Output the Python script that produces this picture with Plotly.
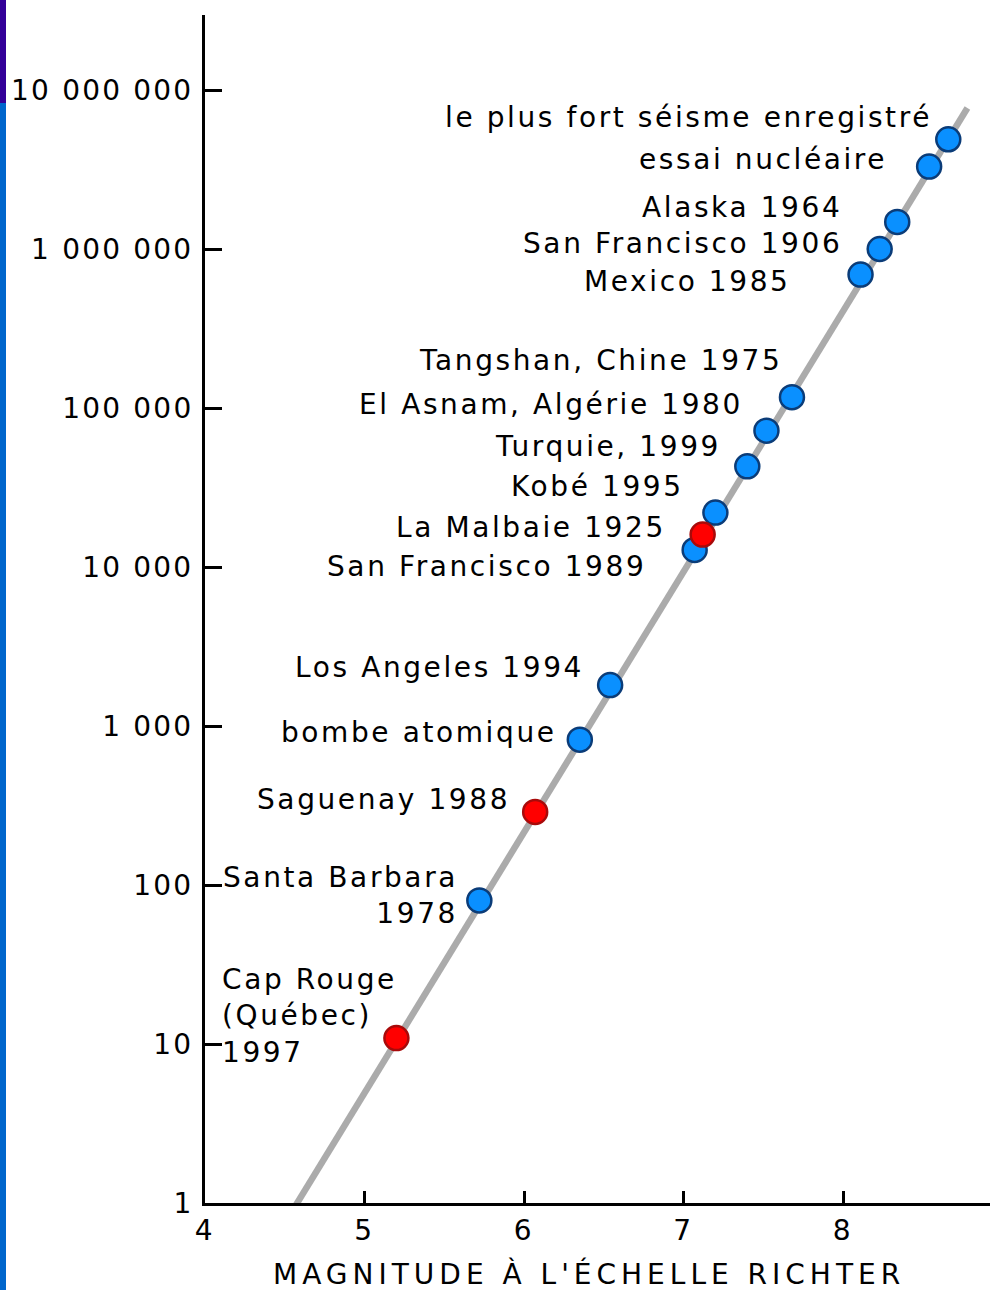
import math
import plotly.graph_objects as go

# ---------------- data ----------------
events = [
    "le plus fort séisme enregistré",
    "essai nucléaire",
    "Alaska 1964",
    "San Francisco 1906",
    "Mexico 1985",
    "Tangshan, Chine 1975",
    "El Asnam, Algérie 1980",
    "Turquie, 1999",
    "Kobé 1995",
    "La Malbaie 1925",
    "San Francisco 1989",
    "Los Angeles 1994",
    "bombe atomique",
    "Saguenay 1988",
    "Santa Barbara\n1978",
    "Cap Rouge\n(Québec)\n1997",
]
magnitude = [8.66, 8.54, 8.34, 8.23, 8.11, 7.68, 7.52, 7.40, 7.20, 7.12, 7.07,
             6.54, 6.35, 6.07, 5.72, 5.20]
energy = [4.9e6, 3.3e6, 1.48e6, 1.0e6, 6.9e5, 1.17e5, 7.2e4, 4.3e4, 2.2e4,
          1.6e4, 1.28e4, 1810, 820, 288, 80, 10.9]
quebec = [False, False, False, False, False, False, False, False, False,
          True, False, False, False, True, False, True]

trend_x = [4.55, 8.78]
trend_y = [0.9, 7.7e6]

x_ticks = [4, 5, 6, 7, 8]
y_ticks = [1, 10, 100, 1000, 1e4, 1e5, 1e6, 1e7]
y_ticktext = ["1", "10", "100", "1 000", "10 000", "100 000", "1 000 000", "10 000 000"]
x_title = "MAGNITUDE À L'ÉCHELLE RICHTER"

# ---------------- style ----------------
W, H = 992, 1290
ML, MR, MT, MB = 205, 2, 15, 87
PW, PH = W - ML - MR, H - MT - MB
PX_PER_MAG = 159.5
PX_PER_DEC = 159.0
FONT = "DejaVu Sans"
FS = 28
LS = 2.6


def spaced(s, ls=LS):
    return "<br>".join(
        f'<span style="letter-spacing:{ls}px">{line}</span>' for line in s.split("\n")
    )


# label placement: (xanchor, xshift px, yshift px)
label_place = {
    0: ("right", -15, 22),
    1: ("right", -41, 7),
    2: ("right", -54, 14),
    3: ("right", -37, 6),
    4: ("right", -69, -7),
    5: ("right", -9, 37),
    6: ("right", -22, 26),
    7: ("right", -25, 20),
    8: ("right", -30, 26),
    9: ("right", -36, 7),
    10: ("right", -48, -17),
    11: ("right", -25, 18),
    12: ("right", -22, 7),
    13: ("right", -24, 12),
    14: ("right", -20, 5),
    15: ("left", -175, 22),
}

fig = go.Figure()

fig.add_trace(go.Scatter(
    x=trend_x, y=trend_y, mode="lines",
    line=dict(color="#ababab", width=6.5), hoverinfo="skip", showlegend=False,
))

bx = [m for m, q in zip(magnitude, quebec) if not q]
by = [e for e, q in zip(energy, quebec) if not q]
rx = [m for m, q in zip(magnitude, quebec) if q]
ry = [e for e, q in zip(energy, quebec) if q]

fig.add_trace(go.Scatter(
    x=bx, y=by, mode="markers", showlegend=False, cliponaxis=False,
    marker=dict(size=24, color="#0a90ff", line=dict(color="#0b3c78", width=2.5)),
))
fig.add_trace(go.Scatter(
    x=rx, y=ry, mode="markers", showlegend=False, cliponaxis=False,
    marker=dict(size=24, color="#ff0000", line=dict(color="#a80a0a", width=2.5)),
))

annotations = []
for i, (name, m, e) in enumerate(zip(events, magnitude, energy)):
    xa, dx, dy = label_place[i]
    annotations.append(dict(
        x=m, y=math.log10(e), xref="x", yref="y",
        text=spaced(name), showarrow=False,
        xanchor=xa, yanchor="middle", align=xa,
        xshift=dx, yshift=dy, borderpad=0,
        font=dict(family=FONT, size=FS, color="black"),
    ))

annotations.append(dict(
    x=0.5, y=0, xref="paper", yref="paper",
    text=spaced(x_title, 5), showarrow=False,
    xanchor="center", yanchor="middle", xshift=-9, yshift=-71, borderpad=0,
    font=dict(family=FONT, size=FS, color="black"),
))

# decorative left stripe
shapes = [
    dict(type="rect", xref="paper", yref="paper", layer="above",
         x0=-ML / PW, x1=(-ML + 6) / PW, y0=(PH + MT - 103) / PH, y1=(PH + MT) / PH,
         fillcolor="#330099", line=dict(width=0)),
    dict(type="rect", xref="paper", yref="paper", layer="above",
         x0=-ML / PW, x1=(-ML + 6) / PW, y0=-MB / PH, y1=(PH + MT - 103) / PH,
         fillcolor="#0066cc", line=dict(width=0)),
]

fig.update_layout(
    width=W, height=H, autosize=False,
    margin=dict(l=ML, r=MR, t=MT, b=MB, pad=0),
    paper_bgcolor="white", plot_bgcolor="white",
    showlegend=False,
    annotations=annotations,
    shapes=shapes,
    font=dict(family=FONT, size=FS, color="black"),
    xaxis=dict(
        range=[4, 4 + PW / PX_PER_MAG],
        tickvals=x_ticks, ticktext=[spaced(str(t)) for t in x_ticks],
        ticks="inside", ticklen=12, tickwidth=3, tickcolor="black",
        showline=True, linewidth=3, linecolor="black",
        showgrid=False, zeroline=False,
        tickfont=dict(family=FONT, size=FS, color="black"),
        ticklabelstandoff=0,
    ),
    yaxis=dict(
        type="log", range=[0, PH / PX_PER_DEC],
        tickvals=y_ticks, ticktext=[spaced(t, 2.2) for t in y_ticktext],
        ticks="inside", ticklen=17, tickwidth=3, tickcolor="black",
        showline=True, linewidth=3, linecolor="black",
        showgrid=False, zeroline=False,
        tickfont=dict(family=FONT, size=FS, color="black"),
        ticklabelstandoff=3,
    ),
)

fig.write_html("out.html")
